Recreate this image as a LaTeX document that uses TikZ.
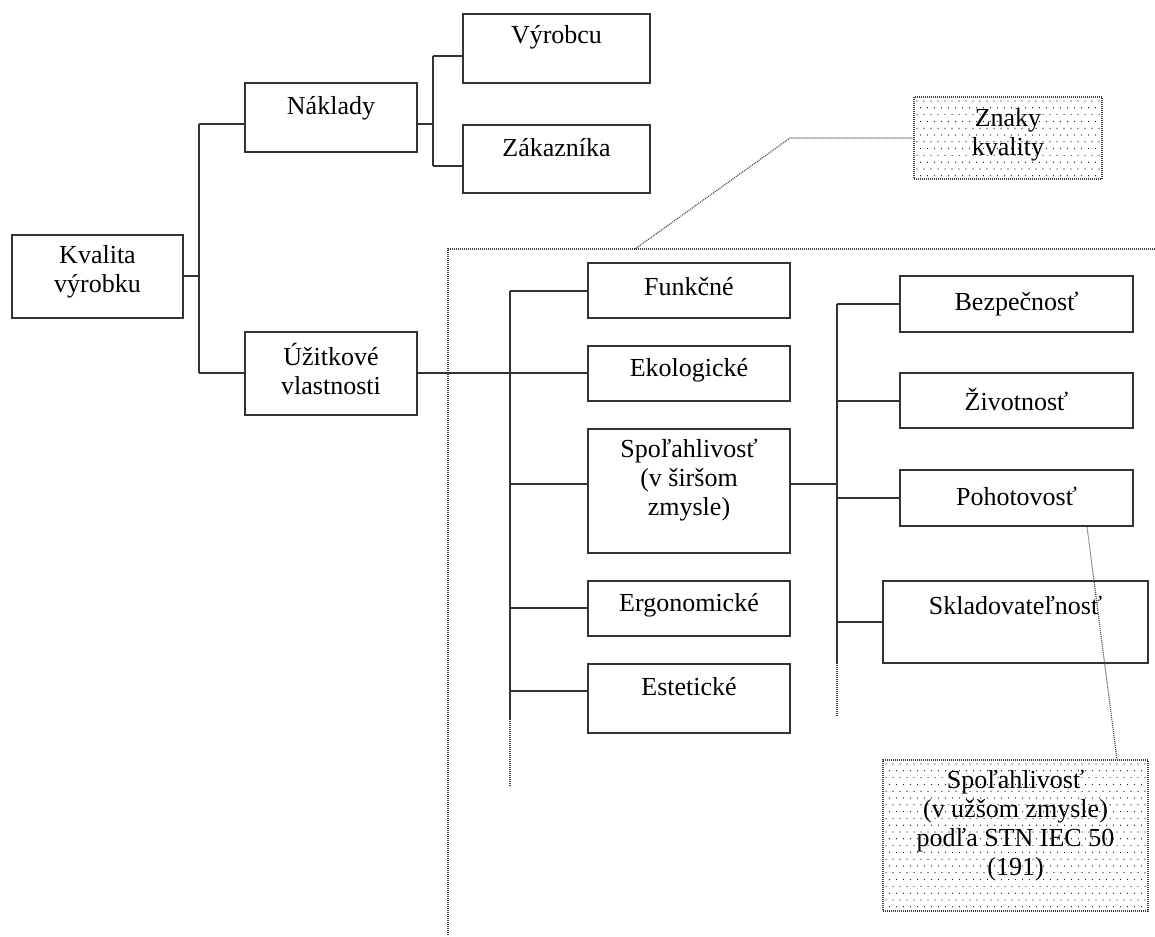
\documentclass[tikz,border=0pt]{standalone}
\usepackage{fontspec}
\setmainfont{Liberation Serif}
\usetikzlibrary{fit,calc}
\begin{document}
\begin{tikzpicture}[x=1pt,y=-1pt,
  box/.style={draw=black!80, line width=1.4pt, fill=white, inner sep=0pt},
  dbox/.style={draw=black!75, line width=1.2pt, dash pattern=on 1pt off 1pt, inner sep=0pt},
  txt/.style={font=\fontsize{26}{29}\selectfont, align=center, inner sep=0pt, text=black},
  link/.style={draw=black!80, line width=1.3pt},
  dotl/.style={draw=black!75, line width=1.1pt, dash pattern=on 1pt off 1pt},
  dotfill/.style={fill=black}
]
\useasboundingbox (0,0) rectangle (1155,936);
\fill[white] (0,0) rectangle (1155,936);

% ---- solid boxes
\node[box, fit={(12,235) (183,318)}] (kv) {};
\node[box, fit={(245,83) (417,152)}] (nak) {};
\node[box, fit={(245,332) (417,415)}] (uz) {};
\node[box, fit={(463,14) (650,83)}] (vyr) {};
\node[box, fit={(463,125) (650,193)}] (zak) {};
\node[box, fit={(588,263) (790,318)}] (funk) {};
\node[box, fit={(588,346) (790,401)}] (eko) {};
\node[box, fit={(588,429) (790,553)}] (sp) {};
\node[box, fit={(588,581) (790,636)}] (erg) {};
\node[box, fit={(588,664) (790,733)}] (est) {};
\node[box, fit={(900,276) (1133,332)}] (bez) {};
\node[box, fit={(900,373) (1133,428)}] (ziv) {};
\node[box, fit={(900,470) (1133,526)}] (poh) {};
\node[box, fit={(883,581) (1148,663)}] (skl) {};

% ---- dotted (patterned) boxes
\fill[white] (914,97) rectangle (1102,179);
\begin{scope}
  \clip (916,99) rectangle (1100,177);
  \foreach \r in {0,...,11} {
    \foreach \c in {0,...,27} {
      \fill[dotfill] ({917+\c*7+mod(\r,2)*3.5},{101+\r*6.8}) circle (0.6pt);
    }
  }
\end{scope}
\node[dbox, fit={(914,97) (1102,179)}] (znaky) {};

\fill[white] (883,760) rectangle (1148,911);
\begin{scope}
  \clip (885,762) rectangle (1146,909);
  \foreach \r in {0,...,21} {
    \foreach \c in {0,...,38} {
      \fill[dotfill] ({886+\c*7+mod(\r,2)*3.5},{764+\r*6.8}) circle (0.6pt);
    }
  }
\end{scope}
\node[dbox, fit={(883,760) (1148,911)}] (uzsi) {};

% ---- texts
\node[txt] at (97.5,272) {Kvalita\\výrobku};
\node[txt] at (331,108) {Náklady};
\node[txt] at (331,369) {Úžitkové\\vlastnosti};
\node[txt] at (556.5,37) {Výrobcu};
\node[txt] at (556.5,148) {Zákazníka};
\node[txt] at (1008,135) {Znaky\\kvality};
\node[txt] at (689,287) {Funkčné};
\node[txt] at (689,370) {Ekologické};
\node[txt] at (689,480) {Spoľahlivosť\\(v širšom\\zmysle)};
\node[txt] at (689,605) {Ergonomické};
\node[txt] at (689,687) {Estetické};
\node[txt] at (1016.5,304) {Bezpečnosť};
\node[txt] at (1016.5,399) {Životnosť};
\node[txt] at (1016.5,496) {Pohotovosť};
\node[txt] at (1015.5,605) {Skladovateľnosť};
\node[txt] at (1015.5,826) {Spoľahlivosť\\(v užšom zmysle)\\podľa STN IEC 50\\(191)};

% ---- connectors: level 1
\coordinate (j1) at (199,276);
\coordinate (j1t) at (199,124);
\coordinate (j1b) at (199,373);
\draw[link] (kv.east |- j1) -- (j1);
\draw[link] (j1t) -- (j1b);
\draw[link] (j1t) -- (j1t -| nak.west);
\draw[link] (j1b) -- (j1b -| uz.west);

% ---- Naklady children
\coordinate (j2) at (433,124);
\coordinate (j2t) at (433,56);
\coordinate (j2b) at (433,166);
\draw[link] (nak.east |- j2) -- (j2);
\draw[link] (j2t) -- (j2b);
\draw[link] (j2t) -- (j2t -| vyr.west);
\draw[link] (j2b) -- (j2b -| zak.west);

% ---- Uzitkove vlastnosti children
\coordinate (j3t) at (510,291);
\coordinate (j3m) at (510,373);
\coordinate (j3s) at (510,719);
\coordinate (j3e) at (510,787);
\coordinate (j3c) at (510,484);
\coordinate (j3g) at (510,608);
\coordinate (j3h) at (510,691);
\draw[link] (uz.east |- j3m) -- (j3m -| eko.west);
\draw[link] (j3t) -- (j3s);
\draw[dotl] (j3s) -- (j3e);
\draw[link] (j3t) -- (j3t -| funk.west);
\draw[link] (j3c) -- (j3c -| sp.west);
\draw[link] (j3g) -- (j3g -| erg.west);
\draw[link] (j3h) -- (j3h -| est.west);

% ---- Spolahlivost children
\coordinate (j4) at (837,484);
\coordinate (j4t) at (837,304);
\coordinate (j4s) at (837,663);
\coordinate (j4e) at (837,717);
\coordinate (j4b) at (837,401);
\coordinate (j4c) at (837,498);
\coordinate (j4d) at (837,622);
\draw[link] (sp.east |- j4) -- (j4);
\draw[link] (j4t) -- (j4s);
\draw[dotl] (j4s) -- (j4e);
\draw[link] (j4t) -- (j4t -| bez.west);
\draw[link] (j4b) -- (j4b -| ziv.west);
\draw[link] (j4c) -- (j4c -| poh.west);
\draw[link] (j4d) -- (j4d -| skl.west);

% ---- dotted frame and leaders
\coordinate (fr1) at (1155,249);
\coordinate (fr2) at (448,249);
\coordinate (fr3) at (448,936);
\draw[dotl] (fr1) -- (fr2) -- (fr3);
\coordinate (ld1) at (635,249);
\coordinate (ld2) at (790,138);
\draw[dotl] (ld1) -- (ld2) -- (ld2 -| znaky.west);
\coordinate (ld3) at ($(poh.south)+(70.5,0)$);
\coordinate (ld4) at (1117,760);
\draw[dotl] (ld3) -- (ld4 |- uzsi.north);
\end{tikzpicture}
\end{document}
